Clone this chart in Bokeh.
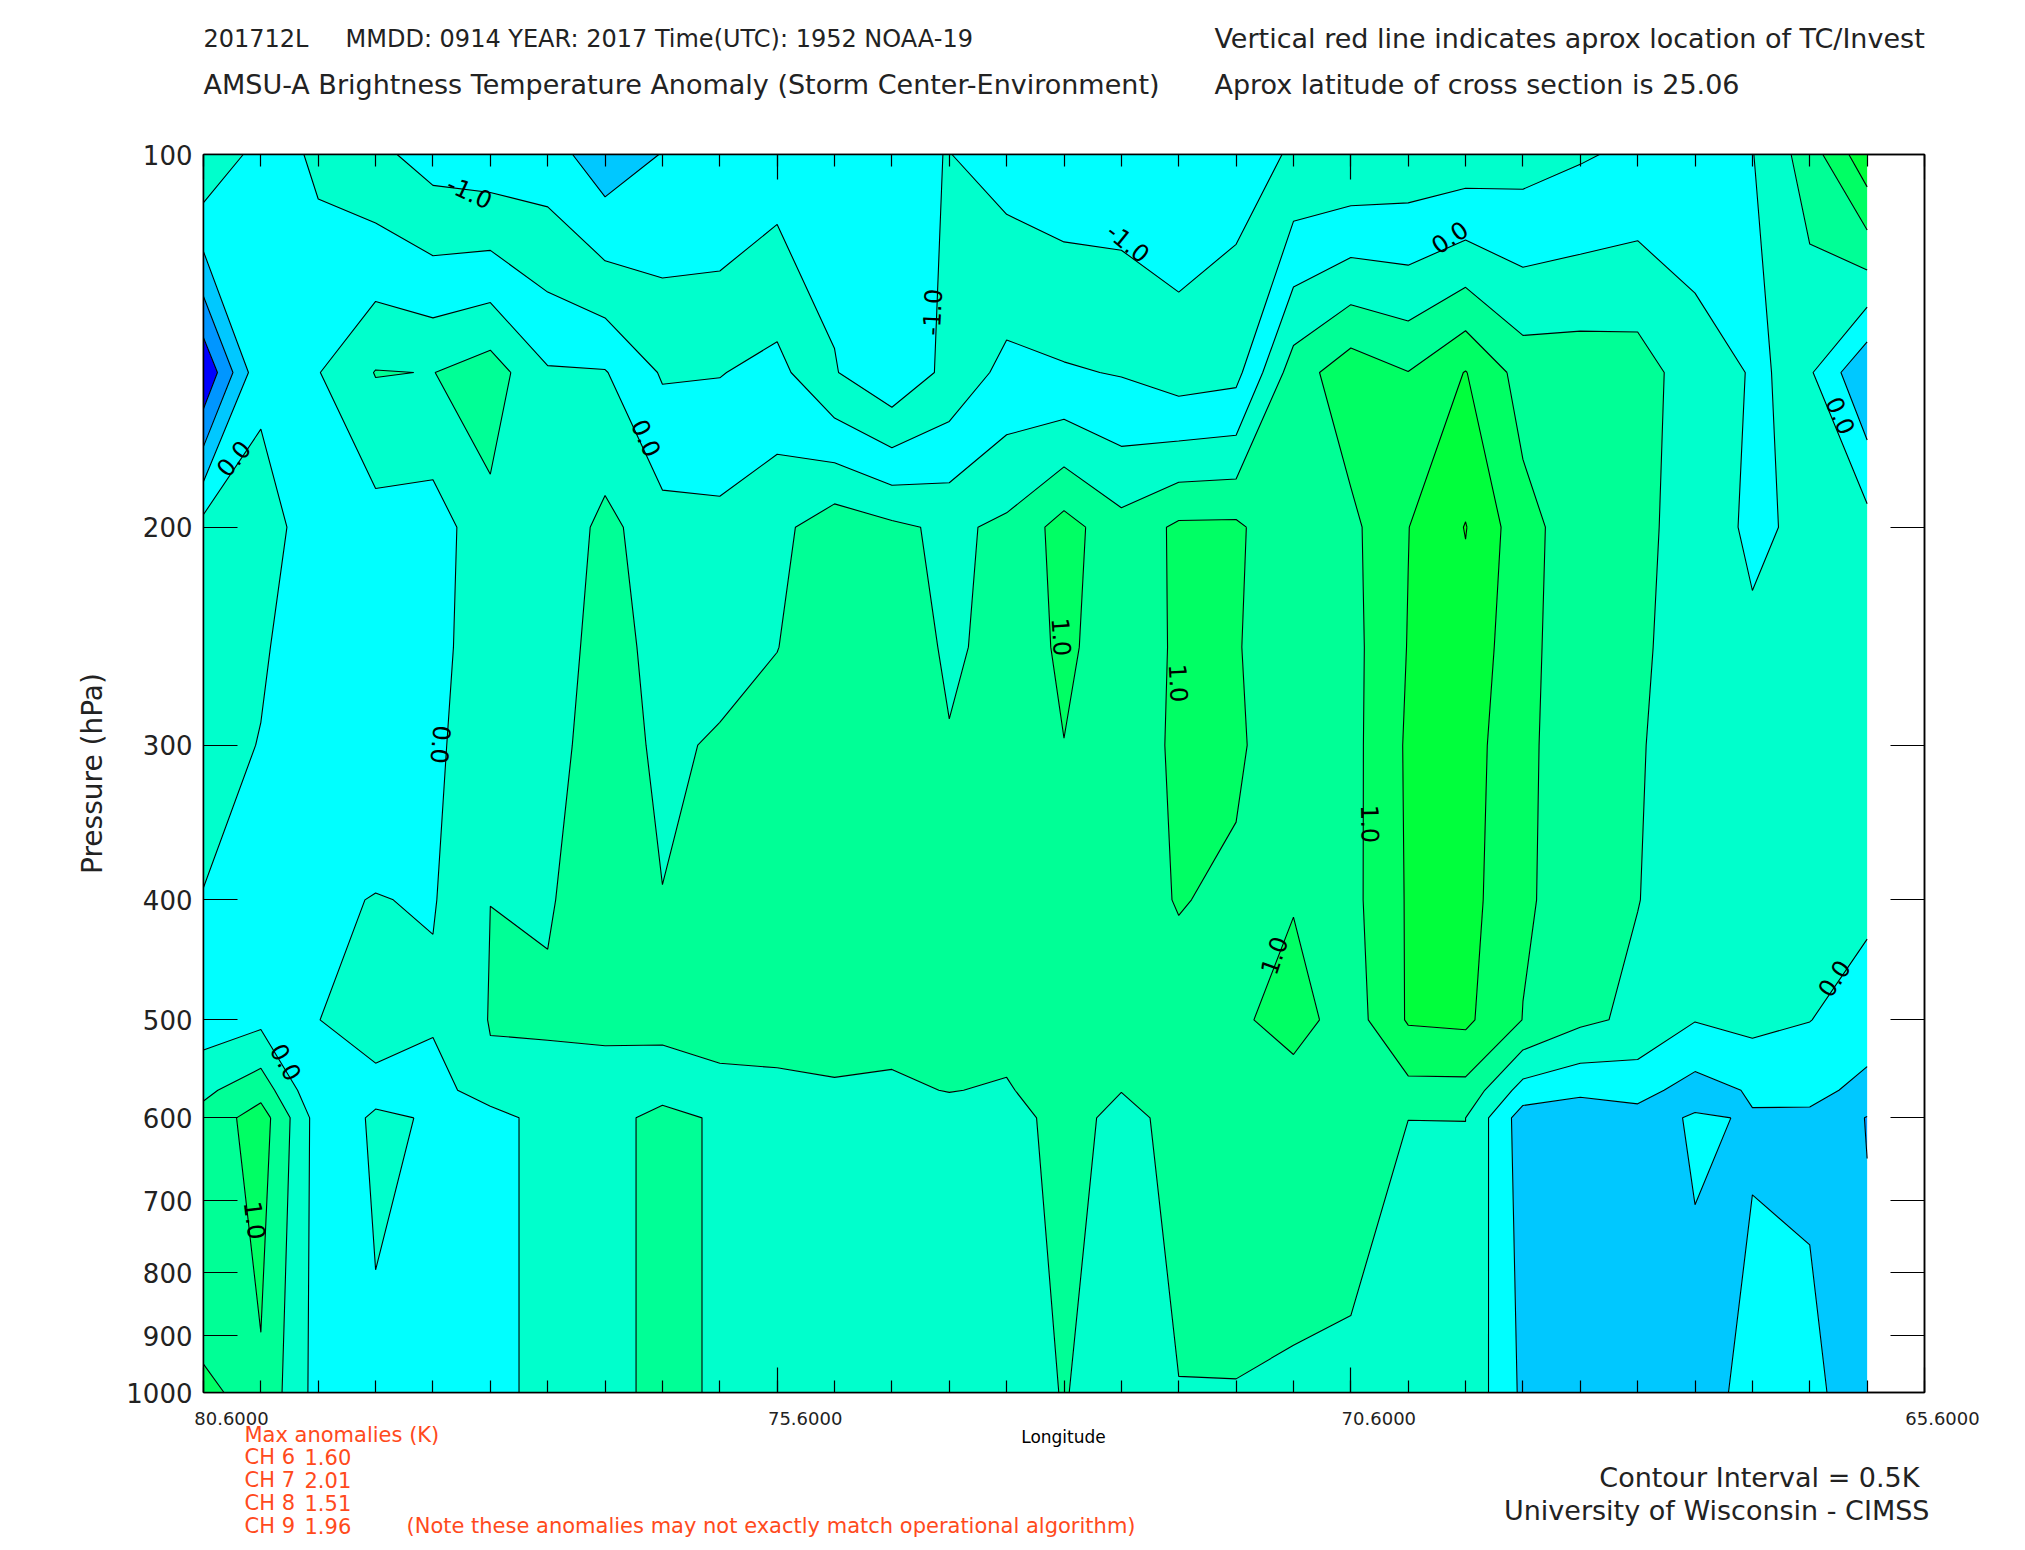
import numpy as np
from bokeh.plotting import figure
from bokeh.layouts import column
from bokeh.models import Range1d, FixedTicker, LinearAxis, LogAxis
from bokeh.core.properties import value
from bokeh.embed import file_html
from bokeh.resources import INLINE

# ---------------------------------------------------------------------------
# Cross-section grid (longitude west -> east, pressure top -> bottom)
# ---------------------------------------------------------------------------
longitude = [80.6, 80.1, 79.6, 79.1, 78.6, 78.1, 77.6, 77.1, 76.6, 76.1,
             75.6, 75.1, 74.6, 74.1, 73.6, 73.1, 72.6, 72.1, 71.6, 71.1,
             70.6, 70.1, 69.6, 69.1, 68.6, 68.1, 67.6, 67.1, 66.6, 66.1]
pressure = [100, 150, 200, 250, 300, 400, 500, 570, 600, 1000]

# AMSU-A brightness temperature anomaly (K), one list per pressure level
tb_100 = [0.45, -0.2, -0.6, -0.88, -1.2, -1.3, -1.27, -1.8, -1.48, -1.45,
          -1.25, -1.2, -1.08, -0.99, -1.2, -1.3, -1.3, -1.35, -1.2, -0.95,
          -0.95, -0.85, -0.8, -0.7, -0.55, -0.4, -0.3, -0.02, 0.75, 1.85]
tb_150 = [-1.95, -0.1, -0.02, 0.52, 0.49, 0.75, 0.05, 0.03, -0.55, -0.52,
          -0.35, -0.97, -1.4, -0.86, -0.35, -0.45, -0.53, -0.75, -0.65, 0.75,
          1.3, 1.01, 1.52, 0.8, 0.8, 0.75, 0.21, -0.03, 0.06, -0.97]
tb_200 = [0.2, 0.2, -0.24, -0.2, -0.25, 0.35, 0.1, 0.64, 0.2, 0.15,
          0.36, 0.8, 0.6, 0.4, 0.6, 1.2, 0.67, 1.09, 1.1, 0.54,
          0.88, 1.49, 2.02, 1.18, 0.72, 0.62, 0.3, -0.1, 0.12, 0.2]
tb_250 = [0.2, 0.06, -0.3, -0.3, -0.1, 0.18, 0.3, 0.65, 0.38, 0.35,
          0.49, 0.8, 0.7, 0.45, 0.6, 1.12, 0.67, 1.08, 1.03, 0.73,
          0.84, 1.52, 1.8, 1.2, 0.6, 0.6, 0.23, 0.1, 0.25, 0.3]
tb_300 = [0.2, -0.02, -0.3, -0.3, -0.06, 0.19, 0.35, 0.7, 0.42, 0.55,
          0.7, 0.8, 0.7, 0.52, 0.7, 0.99, 0.75, 1.08, 1.06, 0.75,
          0.84, 1.57, 1.75, 1.09, 0.77, 0.54, 0.27, 0.25, 0.25, 0.25]
tb_400 = [-0.02, -0.25, -0.07, 0.016, -0.036, 0.499, 0.45, 0.81, 0.51, 0.7,
          0.8, 0.8, 0.8, 0.75, 0.8, 0.9, 0.85, 1.02, 0.93, 0.97,
          0.85, 1.55, 1.7, 1.05, 0.84, 0.51, 0.3, 0.25, 0.2, 0.1]
tb_500 = [-0.28, -0.12, -0.005, 0.15, 0.1, 0.52, 0.58, 0.62, 0.62, 0.62,
          0.7, 0.75, 0.7, 0.75, 0.75, 0.9, 0.85, 0.85, 0.91, 1.2,
          0.76, 1.55, 1.6, 0.99, 0.6, 0.4, 0.02, 0.15, 0.01, -0.23]
tb_570 = [0.4, 0.8, -0.45, -0.1, -0.32, 0.425, 0.29, 0.28, 0.27, 0.42,
          0.4, 0.44, 0.41, 0.52, 0.44, 0.85, 0.52, 0.8, 0.85, 0.78,
          0.78, 0.85, 0.85, -0.2, -0.4, -0.33, -0.7, -0.45, -0.35, -0.645]
tb_600 = [0.66, 1.25, -0.22, 0.048, -0.024, -0.32, 0.32, 0.265, 0.7, 0.41,
          0.35, 0.35, 0.3, 0.25, 0.14, 0.83, 0.25, 0.75, 0.8, 0.8,
          0.8, 0.501, 0.501, -0.75, -0.8, -0.68, -0.45, -0.53, -0.6, -1.02]
tb_1000 = [1.05, 0.91, -0.2, -0.05, -0.1, -0.3, 0.3, 0.265, 0.7, 0.41,
           0.35, 0.3, 0.3, 0.3, 0.3, 0.52, 0.3, 0.48, 0.48, 0.42,
           0.35, 0.35, 0.4, -0.6, -0.7, -0.7, -0.64, -0.4, -0.35, -0.85]

# Maximum channel anomalies reported under the plot
channels = [6, 7, 8, 9]
channel_max = [1.60, 2.01, 1.51, 1.96]

# Contour bands (0.5 K interval) and their fill colours
band_levels = [-3.0, -1.5, -1.0, -0.5, 0.0, 0.5, 1.0, 1.5, 2.0, 3.0]
band_colors = ["#0000ff", "#0096ff", "#00c8ff", "#00ffff", "#00ffcc",
               "#00ff96", "#00ff64", "#00ff3c", "#00ff14"]
# Upper-level window (100-200 hPa, 80.1W-68.1W) uses the shifted palette
upper_colors = ["#00c8ff", "#00ffff", "#00ffcc", "#00ffff", "#00ffcc",
                "#00ff96", "#00ff64", "#00ff3c", "#00ff14"]
upper_rows = (100, 200)
upper_lons = (80.1, 68.1)
line_levels = [-1.5, -1.0, -0.5, 0.0, 0.5, 1.0, 1.5, 2.0]

# Contour labels along the lines
label_text = ["-1.0", "0.0", "0.0", "-1.0", "-1.0", "0.0", "0.0", "0.0",
              "1.0", "0.0", "1.0", "1.0", "1.0", "1.0", "0.0"]
label_lon = [78.28, 80.34, 76.74, 72.54, 74.25, 69.74, 66.33, 79.88,
             80.15, 78.53, 73.12, 72.10, 70.43, 71.27, 66.39]
label_p = [107.2, 176.0, 169.4, 117.8, 134.1, 116.6, 162.5, 540.8,
           726.0, 299.7, 245.3, 267.3, 347.4, 443.6, 463.0]
label_angle = [-25, 50, -65, -39, 87, 34, -66, -61,
               -83, -95, -86, -87, -89, 71, 56]

# ---------------------------------------------------------------------------
z = np.array([tb_100, tb_150, tb_200, tb_250, tb_300, tb_400,
              tb_500, tb_570, tb_600, tb_1000], dtype=float)
lon = np.array(longitude)
pres = np.array(pressure, dtype=float)

# upper window: everything outside it masked out
z_upper = np.full_like(z, np.nan)
rmask = (pres >= upper_rows[0]) & (pres <= upper_rows[1])
cmask = (lon <= upper_lons[0] + 1e-6) & (lon >= upper_lons[1] - 1e-6)
z_upper[np.ix_(rmask, cmask)] = z[np.ix_(rmask, cmask)]

# contour generator wants ascending coordinates
lon_asc = lon[::-1]
z_asc = z[:, ::-1]
z_upper_asc = z_upper[:, ::-1]

W = 2025
FRAME_L, FRAME_R = 203, 1924
FRAME_H = 1238
PAD_TOP, PAD_BOTTOM = 16, 15
HEADER_H = 154 - PAD_TOP
MAIN_H = FRAME_H + PAD_TOP + PAD_BOTTOM
FOOTER_H = 1550 - HEADER_H - MAIN_H
FONT = "DejaVu Sans"
INK = "#222222"
RED = "#ff4a1c"


def unalign(f):
    # keep each panel's own frame instead of lining frames up in the column
    if "frame_align" in f.properties():
        f.frame_align = False
        return True
    return False


def text_panel(height):
    f = figure(width=W, height=height, x_axis_location=None, y_axis_location=None,
               output_backend="svg", toolbar_location=None, min_border=0)
    if unalign(f):
        f.x_range = Range1d(0, W)
    else:
        f.x_range = Range1d(FRAME_L, FRAME_R)
    f.y_range = Range1d(height, 0)
    f.outline_line_color = None
    f.background_fill_color = "white"
    f.border_fill_color = "white"
    f.grid.visible = False
    return f


def put(f, x, y, text, size, color=INK, align="left", angle=0):
    f.text(x=[x], y=[y], text=[text], angle=angle, angle_units="deg",
           text_font=value(FONT), text_font_size=f"{size}px", text_color=color,
           text_align=align, text_baseline="middle")


# ---------------------------------------------------------------------------
# header
header = text_panel(HEADER_H)
put(header, 203, 38, "201712L", 24)
put(header, 345, 38, "MMDD: 0914 YEAR: 2017 Time(UTC): 1952 NOAA-19", 24)
put(header, 1214, 38, "Vertical red line indicates aprox location of TC/Invest", 27)
put(header, 203, 84, "AMSU-A Brightness Temperature Anomaly (Storm Center-Environment)", 27)
put(header, 1214, 84, "Aprox latitude of cross section is 25.06", 27)

# ---------------------------------------------------------------------------
# cross section
p = figure(width=W, height=MAIN_H,
           x_range=Range1d(80.6, 65.6), y_range=Range1d(1000, 100),
           y_axis_type="log", output_backend="svg", toolbar_location=None,
           min_border_left=FRAME_L, min_border_right=W - FRAME_R,
           min_border_top=PAD_TOP, min_border_bottom=PAD_BOTTOM)
unalign(p)
p.background_fill_color = "white"
p.border_fill_color = "white"
p.outline_line_color = "black"
p.outline_line_width = 1.5
p.grid.visible = False

# filled bands, the upper window on top, then the contour lines
p.contour(x=lon_asc, y=pres, z=z_asc, levels=band_levels, fill_color=band_colors)
p.contour(x=lon_asc, y=pres, z=z_upper_asc, levels=band_levels, fill_color=upper_colors)
p.contour(x=lon_asc, y=pres, z=z_asc, levels=line_levels,
          line_color="black", line_width=1.1)

p.text(x=label_lon, y=label_p, text=label_text, angle=label_angle, angle_units="deg",
       text_font=value(FONT), text_font_size="24px", text_color="black",
       text_align="center", text_baseline="middle")

# axes: ticks pointing into the frame on all four sides
lon_major = [80.6, 75.6, 70.6, 65.6]
lon_ticker = FixedTicker(ticks=lon_major,
                         minor_ticks=[round(80.6 - 0.5 * k, 1) for k in range(31)])
p_ticks = [100, 200, 300, 400, 500, 600, 700, 800, 900, 1000]
p_ticker = FixedTicker(ticks=p_ticks, minor_ticks=[])
p.xaxis.ticker = lon_ticker
p.yaxis.ticker = p_ticker
p.add_layout(LinearAxis(ticker=lon_ticker), "above")
p.add_layout(LogAxis(ticker=p_ticker), "right")

for ax in list(p.xaxis) + list(p.yaxis):
    ax.axis_line_color = "black"
    ax.axis_line_width = 1.5
    ax.major_tick_line_color = "black"
    ax.major_tick_line_width = 1.2
    ax.minor_tick_line_color = "black"
    ax.minor_tick_line_width = 1.2
    ax.major_tick_out = 0
    ax.minor_tick_out = 0
    # only the left axis shows its tick labels
    ax.major_label_text_color = None
    ax.major_label_text_font_size = "1px"
    ax.major_label_standoff = 0
for ax in p.xaxis:
    ax.major_tick_in = 25
    ax.minor_tick_in = 12
for ax in p.yaxis:
    ax.major_tick_in = 34
    ax.minor_tick_line_color = None

left = p.yaxis[0]
left.major_label_text_color = INK
left.major_label_text_font = FONT
left.major_label_text_font_size = "26px"
left.major_label_standoff = 11
left.axis_label = "Pressure (hPa)"
left.axis_label_text_font = FONT
left.axis_label_text_font_size = "28px"
left.axis_label_text_font_style = "normal"
left.axis_label_text_color = INK
left.axis_label_standoff = 14

# ---------------------------------------------------------------------------
# footer (canvas y of its top edge is HEADER_H + MAIN_H)
footer = text_panel(FOOTER_H)
y0 = HEADER_H + MAIN_H
for i, lt in enumerate(lon_major):
    tx = FRAME_L + (80.6 - lt) * (FRAME_R - FRAME_L) / 15.0
    put(footer, tx + (18 if i == 3 else 28), 1418 - y0, f"{lt:.4f}", 18, align="center")
put(footer, 1063, 1436 - y0, "Longitude", 17, color="black", align="center")
put(footer, 244, 1434 - y0, "Max anomalies (K)", 21, color=RED)
for k, (ch, mx) in enumerate(zip(channels, channel_max)):
    yy = 1456 + 23 * k - y0
    put(footer, 244, yy, f"CH {ch}", 21, color=RED)
    put(footer, 304, yy, f"{mx:.2f}", 21, color=RED)
put(footer, 406, 1525 - y0,
    "(Note these anomalies may not exactly match operational algorithm)", 21, color=RED)
put(footer, 1919, 1477 - y0, "Contour Interval = 0.5K", 27, align="right")
put(footer, 1929, 1510 - y0, "University of Wisconsin - CIMSS", 27, align="right")

page = column(header, p, footer, spacing=0)
open("out.html", "w").write(file_html(page, INLINE, "AMSU-A cross section"))
